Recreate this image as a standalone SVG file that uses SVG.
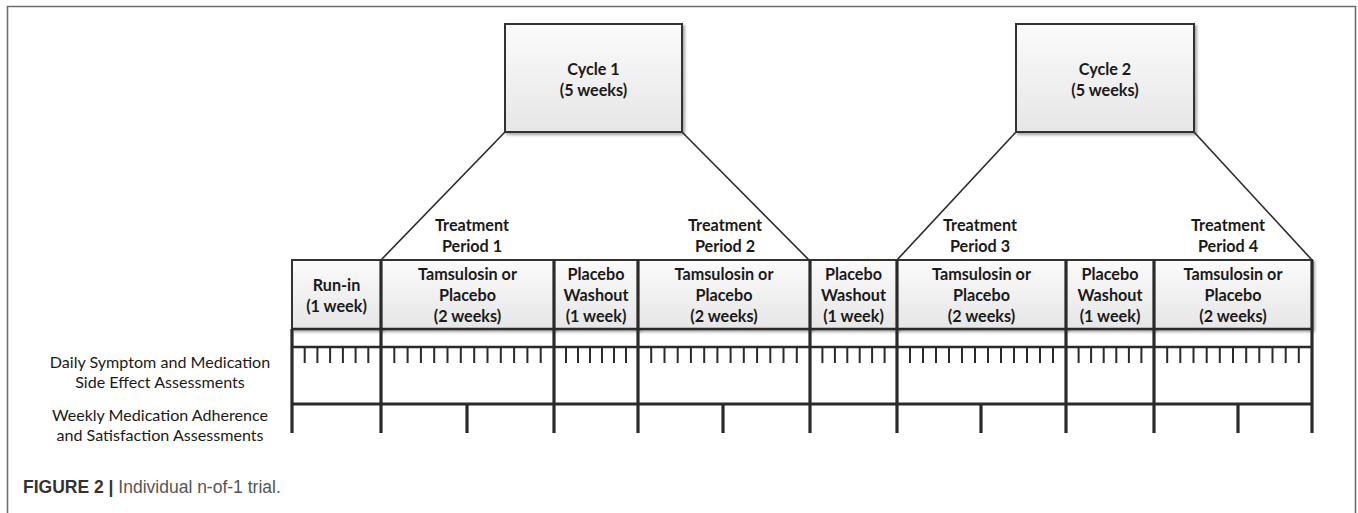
<svg xmlns="http://www.w3.org/2000/svg" width="1358" height="513" viewBox="0 0 1358 513">
<defs>
<linearGradient id="gfill" x1="0" y1="0" x2="0" y2="1">
<stop offset="0" stop-color="#fbfbfb"/>
<stop offset="1" stop-color="#e6e6e6"/>
</linearGradient>
<filter id="shadow" x="-10%" y="-10%" width="120%" height="130%">
<feDropShadow dx="2" dy="2" stdDeviation="1.5" flood-color="#000" flood-opacity="0.35"/>
</filter>
<style>
.box{fill:url(#gfill);stroke:#333;stroke-width:2;filter:url(#shadow)}
.bt{font-family:Lato,"Open Sans","Liberation Sans",sans-serif;font-weight:bold;font-size:16.2px;fill:#1a1a1a;text-anchor:middle}
.lt{font-family:Lato,"Open Sans","Liberation Sans",sans-serif;font-size:16.1px;fill:#1a1a1a;text-anchor:middle}
.cap{font-family:"Liberation Sans",Arial,sans-serif;font-size:17.5px;fill:#333}
.thin{stroke:#2a2a2a;stroke-width:1.6;fill:none}
.hl{stroke:#2a2a2a;stroke-width:2.5;fill:none}
.vl{stroke:#2a2a2a;stroke-width:3.2;fill:none}
.tk{stroke:#2a2a2a;stroke-width:2;fill:none}
</style>
</defs>
<rect width="1358" height="513" fill="#fff"/>
<path d="M7.5 513 V6.5 H1355.5 V513" fill="none" stroke="#6e6e6e" stroke-width="1.6"/>

<g id="connectors">
<path class="thin" d="M505 132 L381 260"/>
<path class="thin" d="M682 132 L809 260"/>
<path class="thin" d="M1016 132 L897 260"/>
<path class="thin" d="M1194 132 L1312 260"/>
</g>

<g id="cycle1">
<rect class="box" x="505" y="24" width="177" height="108"/>
<text class="bt" x="593.5" y="75">Cycle 1</text>
<text class="bt" x="593.5" y="96">(5 weeks)</text>
</g>
<g id="cycle2">
<rect class="box" x="1016" y="24" width="178" height="108"/>
<text class="bt" x="1105" y="75">Cycle 2</text>
<text class="bt" x="1105" y="96">(5 weeks)</text>
</g>

<g id="tp1"><text class="bt" x="472" y="231">Treatment</text><text class="bt" x="472" y="252">Period 1</text></g>
<g id="tp2"><text class="bt" x="725" y="231">Treatment</text><text class="bt" x="725" y="252">Period 2</text></g>
<g id="tp3"><text class="bt" x="980" y="231">Treatment</text><text class="bt" x="980" y="252">Period 3</text></g>
<g id="tp4"><text class="bt" x="1228" y="231">Treatment</text><text class="bt" x="1228" y="252">Period 4</text></g>

<g id="runin">
<rect class="box" x="292" y="260" width="89" height="69"/>
<text class="bt" x="336.5" y="291">Run-in</text>
<text class="bt" x="336.5" y="312">(1 week)</text>
</g>
<g id="tam1">
<rect class="box" x="381" y="260" width="173" height="69"/>
<text class="bt" x="467.5" y="280">Tamsulosin or</text>
<text class="bt" x="467.5" y="301">Placebo</text>
<text class="bt" x="467.5" y="322">(2 weeks)</text>
</g>
<g id="wash1">
<rect class="box" x="554" y="260" width="84" height="69"/>
<text class="bt" x="596" y="280">Placebo</text>
<text class="bt" x="596" y="301">Washout</text>
<text class="bt" x="596" y="322">(1 week)</text>
</g>
<g id="tam2">
<rect class="box" x="638" y="260" width="172" height="69"/>
<text class="bt" x="724" y="280">Tamsulosin or</text>
<text class="bt" x="724" y="301">Placebo</text>
<text class="bt" x="724" y="322">(2 weeks)</text>
</g>
<g id="wash2">
<rect class="box" x="810" y="260" width="87" height="69"/>
<text class="bt" x="853.5" y="280">Placebo</text>
<text class="bt" x="853.5" y="301">Washout</text>
<text class="bt" x="853.5" y="322">(1 week)</text>
</g>
<g id="tam3">
<rect class="box" x="897" y="260" width="169" height="69"/>
<text class="bt" x="981.5" y="280">Tamsulosin or</text>
<text class="bt" x="981.5" y="301">Placebo</text>
<text class="bt" x="981.5" y="322">(2 weeks)</text>
</g>
<g id="wash3">
<rect class="box" x="1066" y="260" width="88" height="69"/>
<text class="bt" x="1110" y="280">Placebo</text>
<text class="bt" x="1110" y="301">Washout</text>
<text class="bt" x="1110" y="322">(1 week)</text>
</g>
<g id="tam4">
<rect class="box" x="1154" y="260" width="158" height="69"/>
<text class="bt" x="1233" y="280">Tamsulosin or</text>
<text class="bt" x="1233" y="301">Placebo</text>
<text class="bt" x="1233" y="322">(2 weeks)</text>
</g>

<g id="timeline">
<path class="hl" d="M292 329 H1312 M292 347 H1312"/>
<path class="vl" d="M292 404 H1312"/>
<path class="vl" d="M292 329 V433 M381 260 V433 M554 260 V433 M638 260 V433 M810 260 V433 M897 260 V433 M1066 260 V433 M1154 260 V433 M1312 260 V433"/>
<path class="vl" d="M467 404 V433 M723 404 V433 M981 404 V433 M1238 404 V433"/>
<path class="tk" d="M304.7 347 V363 M317.4 347 V363 M330.1 347 V363 M342.9 347 V363 M355.6 347 V363 M368.3 347 V363
M394.3 347 V363 M407.6 347 V363 M420.9 347 V363 M434.2 347 V363 M447.5 347 V363 M460.8 347 V363 M474.2 347 V363 M487.5 347 V363 M500.8 347 V363 M514.1 347 V363 M527.4 347 V363 M540.7 347 V363
M566 347 V363 M578 347 V363 M590 347 V363 M602 347 V363 M614 347 V363 M626 347 V363
M651.2 347 V363 M664.5 347 V363 M677.7 347 V363 M690.9 347 V363 M704.2 347 V363 M717.4 347 V363 M730.6 347 V363 M743.8 347 V363 M757.1 347 V363 M770.3 347 V363 M783.5 347 V363 M796.8 347 V363
M822.4 347 V363 M834.9 347 V363 M847.3 347 V363 M859.7 347 V363 M872.1 347 V363 M884.6 347 V363
M910 347 V363 M923 347 V363 M936 347 V363 M949 347 V363 M962 347 V363 M975 347 V363 M988 347 V363 M1001 347 V363 M1014 347 V363 M1027 347 V363 M1040 347 V363 M1053 347 V363
M1078.6 347 V363 M1091.1 347 V363 M1103.7 347 V363 M1116.3 347 V363 M1128.9 347 V363 M1141.4 347 V363
M1167.2 347 V363 M1180.3 347 V363 M1193.5 347 V363 M1206.7 347 V363 M1219.8 347 V363 M1233 347 V363 M1246.2 347 V363 M1259.3 347 V363 M1272.5 347 V363 M1285.7 347 V363 M1298.8 347 V363"/>
</g>

<g id="labels">
<text class="lt" x="160" y="368">Daily Symptom and Medication</text>
<text class="lt" x="160" y="388">Side Effect Assessments</text>
<text class="lt" x="160" y="421">Weekly Medication Adherence</text>
<text class="lt" x="160" y="441">and Satisfaction Assessments</text>
</g>

<g id="caption">
<text class="cap" x="23" y="493"><tspan font-weight="bold" fill="#333">FIGURE 2 |</tspan><tspan fill="#555"> Individual n-of-1 trial.</tspan></text>
</g>
</svg>
